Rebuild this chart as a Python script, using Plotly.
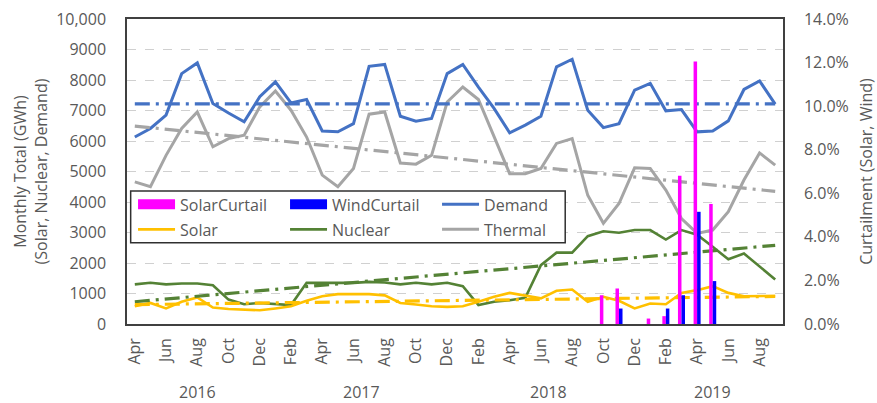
import plotly.graph_objects as go

# ---- data ----
month_names = ["Apr", "May", "Jun", "Jul", "Aug", "Sep", "Oct", "Nov", "Dec",
               "Jan", "Feb", "Mar", "Apr", "May", "Jun", "Jul", "Aug", "Sep", "Oct", "Nov", "Dec",
               "Jan", "Feb", "Mar", "Apr", "May", "Jun", "Jul", "Aug", "Sep", "Oct", "Nov", "Dec",
               "Jan", "Feb", "Mar", "Apr", "May", "Jun", "Jul", "Aug", "Sep"]
years = [2016] * 9 + [2017] * 12 + [2018] * 12 + [2019] * 9
categories = [f"{m} {y}" for m, y in zip(month_names, years)]

demand = [6130, 6410, 6850, 8210, 8560, 7230, 6920, 6630, 7450,
          7940, 7250, 7360, 6330, 6300, 6570, 8450, 8510, 6810, 6650, 6740, 8210,
          8510, 7770, 7070, 6270, 6520, 6810, 8430, 8680, 7010, 6440, 6570, 7670,
          7890, 6990, 7030, 6300, 6330, 6660, 7690, 7970, 7210]
thermal = [4660, 4500, 5530, 6410, 6950, 5810, 6080, 6190, 7120,
           7640, 7010, 6130, 4880, 4500, 5100, 6880, 6950, 5280, 5240, 5530, 7280,
           7770, 7360, 6130, 4930, 4930, 5100, 5920, 6080, 4220, 3300, 3950, 5120,
           5100, 4390, 3460, 2970, 3080, 3680, 4720, 5610, 5210]
nuclear = [1300, 1350, 1300, 1330, 1330, 1270, 800, 650, 690,
           650, 620, 1350, 1350, 1330, 1350, 1380, 1360, 1300, 1350, 1300, 1350,
           1240, 620, 730, 780, 860, 1930, 2340, 2340, 2880, 3040, 2990, 3080,
           3080, 2770, 3080, 2930, 2530, 2120, 2310, 1900, 1460]
solar = [580, 690, 510, 730, 870, 540, 490, 480, 450,
         510, 580, 760, 910, 980, 980, 980, 940, 690, 640, 580, 560,
         580, 730, 890, 1020, 940, 840, 1090, 1130, 730, 890, 760, 510,
         670, 650, 1020, 1110, 1240, 1020, 910, 910, 920]

# curtailment (%), right axis
solar_curtail = [0] * 30 + [1.32, 1.63, 0, 0.25, 0.36, 6.80, 12.05, 5.51, 0, 0, 0, 0]
wind_curtail = [0] * 30 + [0, 0.71, 0, 0, 0.71, 1.32, 5.15, 1.97, 0, 0, 0, 0]

# linear trend lines (start, end)
trend_x = [categories[0], categories[-1]]
demand_trend = [7220, 7220]
thermal_trend = [6490, 4350]
nuclear_trend = [730, 2580]
solar_trend = [635, 905]

left_tickvals = [0, 1000, 2000, 3000, 4000, 5000, 6000, 7000, 8000, 9000, 10000]
left_ticktext = ["0", "1000", "2000", "3000", "4000", "5000", "6000", "7000", "8000", "9000", "10,000"]
right_tickvals = [0, 2, 4, 6, 8, 10, 12, 14]
right_ticktext = [f"{v:.1f}%" for v in right_tickvals]

# ---- styles ----
FONT = "Open Sans"
TXT = "#595959"
C_DEMAND = "#4472C4"
C_THERMAL = "#A5A5A5"
C_NUCLEAR = "#548235"
C_SOLAR = "#FFC000"
C_SC = "#FF00FF"
C_WC = "#0000FF"
DASHDOT = "15px,6px,3px,6px"

fig = go.Figure()

# data lines
fig.add_trace(go.Scatter(x=categories, y=thermal, mode="lines", name="Thermal",
                         line=dict(color=C_THERMAL, width=3), legend="legend2", legendrank=3))
fig.add_trace(go.Scatter(x=categories, y=nuclear, mode="lines", name="Nuclear",
                         line=dict(color=C_NUCLEAR, width=2.6), legend="legend2", legendrank=2))
fig.add_trace(go.Scatter(x=categories, y=solar, mode="lines", name="Solar",
                         line=dict(color=C_SOLAR, width=2.6), legend="legend2", legendrank=1))
fig.add_trace(go.Scatter(x=categories, y=demand, mode="lines", name="Demand",
                         line=dict(color=C_DEMAND, width=3), legend="legend", legendrank=3))

# trend lines
for vals, col in [(thermal_trend, C_THERMAL), (demand_trend, C_DEMAND),
                  (nuclear_trend, C_NUCLEAR), (solar_trend, C_SOLAR)]:
    fig.add_trace(go.Scatter(x=trend_x, y=vals, mode="lines", showlegend=False,
                             line=dict(color=col, width=3.2, dash=DASHDOT), hoverinfo="skip"))

# curtailment bars on secondary axis
fig.add_trace(go.Bar(x=categories, y=solar_curtail, name="SolarCurtail", yaxis="y2",
                     marker=dict(color=C_SC, line=dict(width=0)), showlegend=False,
                     legendgroup="sc"))
fig.add_trace(go.Bar(x=categories, y=wind_curtail, name="WindCurtail", yaxis="y2",
                     marker=dict(color=C_WC, line=dict(width=0)), showlegend=False,
                     legendgroup="wc"))
# legend swatches for bars (wide rectangles like the original)
fig.add_trace(go.Scatter(x=[None], y=[None], mode="lines", name="SolarCurtail",
                         line=dict(color=C_SC, width=10), legend="legend", legendgroup="sc",
                         legendrank=1))
fig.add_trace(go.Scatter(x=[None], y=[None], mode="lines", name="WindCurtail",
                         line=dict(color=C_WC, width=10), legend="legend", legendgroup="wc",
                         legendrank=2))

# year labels under the month labels
year_list = [2016, 2017, 2018, 2019]
annotations = []
for yr in year_list:
    idx = [i for i, y in enumerate(years) if y == yr]
    annotations.append(dict(x=(idx[0] + idx[-1]) / 2, y=-0.222, xref="x", yref="paper",
                            text=str(yr), showarrow=False, yanchor="middle",
                            font=dict(family=FONT, size=16, color=TXT)))

legend_common = dict(orientation="h", bgcolor="rgba(0,0,0,0)", borderwidth=0,
                     font=dict(family=FONT, size=16, color=TXT),
                     entrywidth=100, entrywidthmode="pixels", itemwidth=37,
                     xanchor="left", yanchor="middle", traceorder="normal")

fig.update_layout(
    width=877, height=403,
    margin=dict(l=127, r=94, t=19, b=79, autoexpand=False),
    paper_bgcolor="white", plot_bgcolor="white",
    font=dict(family=FONT, size=16, color=TXT),
    barmode="group", bargap=0.55, bargroupgap=0,
    showlegend=True,
    legend=dict(x=0.0092, y=0.392, **legend_common),
    legend2=dict(x=0.0092, y=0.31, **legend_common),
    xaxis=dict(type="category", categoryorder="array", categoryarray=categories,
               range=[-0.5, len(categories) - 0.5], automargin=False,
               tickmode="array", tickvals=categories[::2], ticktext=month_names[::2],
               tickangle=-90, showgrid=False, ticks="", ticklabelstandoff=6,
               showline=True, linecolor="#404040", linewidth=1.5, mirror=True,
               tickfont=dict(family=FONT, size=16, color=TXT)),
    yaxis=dict(range=[0, 10000], tickmode="array", tickvals=left_tickvals, ticktext=left_ticktext,
               showgrid=True, gridcolor="#D0D0D0", griddash="dash", gridwidth=1.2,
               zeroline=False, ticks="", ticklabelstandoff=16, automargin=False,
               showline=True, linecolor="#404040", linewidth=1.5, mirror=True,
               title=dict(text="Monthly Total (GWh)<br>(Solar, Nuclear, Demand)",
                          font=dict(family=FONT, size=16, color=TXT), standoff=5),
               tickfont=dict(family=FONT, size=16, color=TXT)),
    yaxis2=dict(range=[0, 14], overlaying="y", side="right", tickmode="array",
                tickvals=right_tickvals, ticktext=right_ticktext, automargin=False,
                showgrid=False, zeroline=False, ticks="", ticklabelstandoff=16,
                showline=True, linecolor="#404040", linewidth=1.5,
                title=dict(text="Curtailment (Solar, Wind)",
                           font=dict(family=FONT, size=16, color=TXT), standoff=14),
                tickfont=dict(family=FONT, size=16, color=TXT)),
    shapes=[dict(type="rect", xref="paper", yref="paper",
                 x0=0.0056, x1=0.668, y0=0.266, y1=0.436,
                 line=dict(color="#303030", width=1.5), fillcolor="white", layer="above")],
    annotations=annotations,
)

fig.write_html("out.html", config={"displayModeBar": False},
               post_script="document.body.style.margin='0';document.body.style.padding='0';")
